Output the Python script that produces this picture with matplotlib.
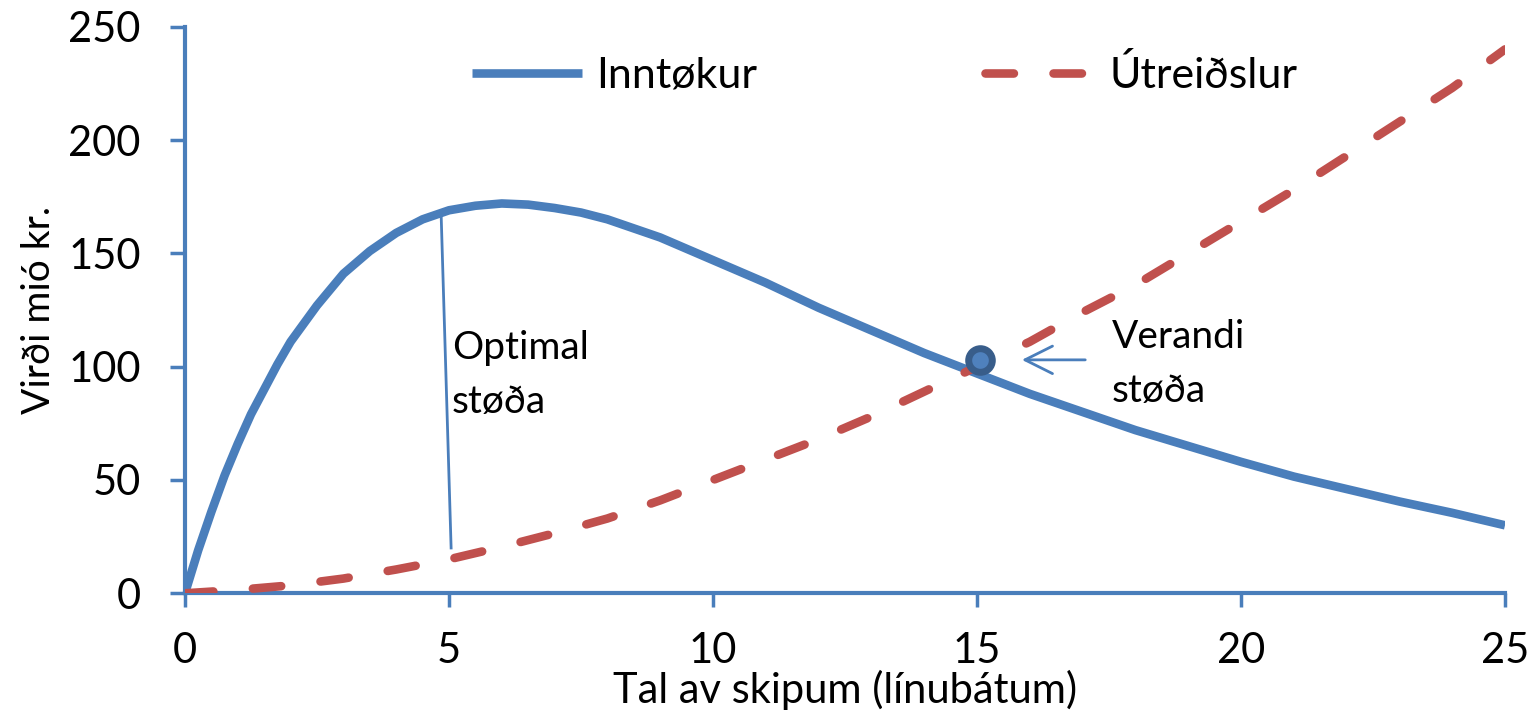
import matplotlib
matplotlib.use("Agg")
import matplotlib.pyplot as plt

plt.rcParams['font.family'] = ['Lato', 'DejaVu Sans']

# ---- data ----
x_in = [0, 0.25, 0.5, 0.75, 1, 1.25, 1.5, 1.75, 2, 2.25, 2.5, 2.75, 3, 3.5, 4, 4.5,
        5, 5.5, 6, 6.5, 7, 7.5, 8, 8.5, 9, 9.5, 10, 10.5, 11, 11.5, 12, 12.5, 13,
        13.5, 14, 14.5, 15, 15.5, 16, 16.5, 17, 17.5, 18, 18.5, 19, 19.5, 20,
        21, 22, 23, 24, 25]
inntokur = [0, 19, 36, 52, 66, 79, 90, 101, 111, 119, 127, 134, 141, 151, 159, 165,
            169, 171, 172, 171.5, 170, 168, 165, 161, 157, 152, 147, 142, 137, 131.5,
            126, 121, 116, 111, 106, 101.5, 97, 92.5, 88, 84, 80, 76, 72, 68.5, 65,
            61.5, 58, 51.5, 46, 40.5, 35.5, 30]

x_ut = [0, 1, 2, 3, 4, 5, 6, 7, 8, 9, 10, 11, 12, 13, 14, 15, 16, 17, 18, 19,
        20, 21, 22, 23, 24, 25]
utreidslur = [0, 1.5, 3.5, 6.5, 10.5, 15, 20.5, 26.5, 33, 41, 50, 59, 68, 78, 89,
              100, 111, 124, 136, 150, 164, 178, 193, 208, 223, 240]

series_labels = ["Inntøkur", "Útreiðslur"]
x_ticks = [0, 5, 10, 15, 20, 25]
y_ticks = [0, 50, 100, 150, 200, 250]

current_x = [15.05]
current_y = [103]
optimal_line_x = [4.85, 5.04]
optimal_line_y = [168, 20]
arrow_from = (17.05, 103)
arrow_to = (15.85, 103)

BLUE = "#4A7EBB"
RED = "#C0504D"
SPINE = "#4A7EBB"

fig = plt.figure(figsize=(15.32, 7.28), dpi=100)
ax = fig.add_axes([185 / 1532, 1 - 593.3 / 728, 1320 / 1532, 566.6 / 728])

ax.plot(x_in, inntokur, color=BLUE, lw=6.2, solid_capstyle='butt',
        solid_joinstyle='round', label=series_labels[0], zorder=3)
ax.plot(x_ut, utreidslur, color=RED, lw=6.2, linestyle=(0, (3.3, 4.6)),
        dash_capstyle='round', label=series_labels[1], zorder=3)

ax.plot(optimal_line_x, optimal_line_y, color=BLUE, lw=2, zorder=2)
ax.plot(current_x, current_y, marker='o', markersize=17, markeredgewidth=5,
        markerfacecolor="#4F81BD", markeredgecolor="#385D8A", linestyle='none',
        zorder=5)
ax.annotate("", xy=arrow_to, xytext=arrow_from,
            arrowprops=dict(arrowstyle='->,head_length=0.9,head_width=0.45',
                            color=BLUE, lw=2, mutation_scale=22,
                            shrinkA=0, shrinkB=0))

ax.text(5.05, 79.5, "Optimal\nstøða", fontsize=28, va='baseline', ha='left',
        linespacing=1.62)
ax.text(17.55, 84.5, "Verandi\nstøða", fontsize=28, va='baseline', ha='left',
        linespacing=1.62)

ax.set_xlim(0, 25)
ax.set_ylim(0, 250)
ax.set_xticks(x_ticks)
ax.set_yticks(y_ticks)
ax.tick_params(axis='x', length=10, width=2.5, color=SPINE, labelsize=30, pad=18)
ax.tick_params(axis='y', length=11, width=2.5, color=SPINE, labelsize=30, pad=21)

for s in ['top', 'right']:
    ax.spines[s].set_visible(False)
for s in ['left', 'bottom']:
    ax.spines[s].set_color(SPINE)
    ax.spines[s].set_linewidth(3)

ax.set_xlabel("Tal av skipum (línubátum)", fontsize=30, labelpad=0)
ax.set_ylabel("Virði mió kr.", fontsize=28, labelpad=8)

ax.legend(loc='center', bbox_to_anchor=(0.53, 0.915), ncol=2, frameon=False,
          fontsize=31, handlelength=2.55, handletextpad=0.33, columnspacing=5.3)

fig.savefig("out.png", dpi=100, facecolor='white')
